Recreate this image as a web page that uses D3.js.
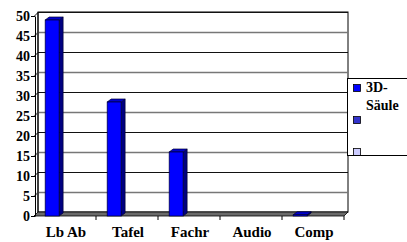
<!DOCTYPE html>
<html>
<head>
<meta charset="utf-8">
<script src="https://cdn.jsdelivr.net/npm/d3@7"></script>
<style>
    body { margin: 0; background: #fff; }
    text { font-family: "Liberation Serif", "Times New Roman", serif; font-weight: bold; fill: #000; }
</style>
</head>
<body>
<script>
// data
var categories = ["Lb Ab", "Tafel", "Fachr", "Audio", "Comp"];
var values = [49, 28.5, 16, 0, 0.3];
var yTicks = [0, 5, 10, 15, 20, 25, 30, 35, 40, 45, 50];
var legendLabels = [["3D-", "Säule"], [], []];
var legendColors = ["#0000ff", "#3333cc", "#ccccff"];

var width = 407,
    height = 242;

var svg = d3.select("body")
    .append("svg")
    .attr("width", width)
    .attr("height", height);

// 3d offset of the back wall
var dx = 4, dy = -4;

var x = d3.scaleBand()
    .domain(categories)
    .range([34, 344]);

var y = d3.scaleLinear()
    .domain([0, 50])
    .range([216, 16]);

var x0 = x.range()[0], x1 = x.range()[1];

// back wall
svg.append("rect")
    .attr("x", x0 + dx)
    .attr("y", y(50) + dy)
    .attr("width", x1 - x0)
    .attr("height", y(0) - y(50))
    .attr("fill", "#fff")
    .attr("stroke", "#000")
    .attr("stroke-width", 1);

// gridlines on back wall + side wall
svg.append("g").selectAll(".grid")
    .data(yTicks.filter(function(d){ return d > 0; }))
    .enter()
    .append("path")
    .attr("class", "grid")
    .attr("d", function(d){
        var yy = Math.round(y(d)) + 0.5;
        return "M" + x0 + "," + yy + "L" + (x0 + dx) + "," + (yy + dy) + "L" + (x1 + dx) + "," + (yy + dy);
    })
    .attr("fill", "none")
    .attr("stroke", function(d){ return (d % 10 === 5) ? "#777" : "#111"; })
    .attr("stroke-width", function(d){ return (d % 10 === 5) ? 1.3 : 1; });

// left side wall edge
svg.append("path")
    .attr("d", "M" + (x0 + dx) + "," + (y(50) + dy) + "L" + (x0 + dx) + "," + (y(0) + dy))
    .attr("stroke", "#000")
    .attr("fill", "none");

// floor
svg.append("path")
    .attr("d", "M" + x0 + "," + y(0) + "L" + (x0 + dx) + "," + (y(0) + dy) +
               "L" + (x1 + dx) + "," + (y(0) + dy) + "L" + x1 + "," + y(0) + "Z")
    .attr("fill", "#6a6a6a")
    .attr("stroke", "#000")
    .attr("stroke-width", 0.8);

// left axis
var yAxis = d3.axisLeft(y)
    .tickValues(yTicks)
    .tickSize(4)
    .tickPadding(1)
    .tickSizeOuter(0);

var yG = svg.append("g")
    .attr("transform", "translate(" + (x0 + 1) + ",0)")
    .attr("font-family", null)
    .call(yAxis);
yG.selectAll("text")
    .style("font-size", "14px")
    .style("font-family", "'Liberation Serif', serif")
    .style("font-weight", "bold")
    .attr("fill", "#000");
yG.selectAll("line, path").attr("stroke", "#000");

// bottom front edge ticks
var tickPos = categories.map(function(c){ return x(c); }).concat([x1]);
svg.selectAll(".xtick")
    .data(tickPos.slice(1))
    .enter()
    .append("line")
    .attr("class", "xtick")
    .attr("x1", function(d){ return d; })
    .attr("x2", function(d){ return d; })
    .attr("y1", y(0))
    .attr("y2", y(0) + 4)
    .attr("stroke", "#000");

// bars
var bw = x.bandwidth() * 0.225,
    boff = x.bandwidth() * 0.18,
    bdx = 4, bdy = -3;

var barData = categories.map(function(c, i){ return { cat: c, value: values[i] }; })
    .filter(function(d){ return d.value > 0; });

var bars = svg.selectAll(".bar")
    .data(barData)
    .enter()
    .append("g")
    .attr("class", "bar");

// side
bars.append("path")
    .attr("d", function(d){
        var bx = x(d.cat) + boff + bw, top = y(d.value), bot = y(0);
        return "M" + bx + "," + top + "L" + (bx + bdx) + "," + (top + bdy) +
               "L" + (bx + bdx) + "," + (bot + bdy) + "L" + bx + "," + bot + "Z";
    })
    .attr("fill", "#000080")
    .attr("stroke", "#000033")
    .attr("stroke-width", 0.7);

// top
bars.append("path")
    .attr("d", function(d){
        var bx = x(d.cat) + boff, top = y(d.value);
        return "M" + bx + "," + top + "L" + (bx + bdx) + "," + (top + bdy) +
               "L" + (bx + bw + bdx) + "," + (top + bdy) + "L" + (bx + bw) + "," + top + "Z";
    })
    .attr("fill", "#0000cc")
    .attr("stroke", "#000033")
    .attr("stroke-width", 0.7);

// front
bars.append("rect")
    .attr("x", function(d){ return x(d.cat) + boff; })
    .attr("y", function(d){ return y(d.value); })
    .attr("width", bw)
    .attr("height", function(d){ return y(0) - y(d.value); })
    .attr("fill", "#0000ff")
    .attr("stroke", "#000033")
    .attr("stroke-width", 0.7);

// category labels
svg.selectAll(".cat")
    .data(categories)
    .enter()
    .append("text")
    .attr("class", "cat")
    .attr("x", function(d){ return x(d) + x.bandwidth() / 2 + 1; })
    .attr("y", 237)
    .attr("text-anchor", "middle")
    .style("font-size", "15px")
    .text(function(d){ return d; });

// legend
var legend = svg.append("g");
legend.append("rect")
    .attr("x", 347.5)
    .attr("y", 78.5)
    .attr("width", 70)
    .attr("height", 77)
    .attr("fill", "#fff")
    .attr("stroke", "#000");

var items = legend.selectAll(".item")
    .data(legendColors)
    .enter()
    .append("g")
    .attr("class", "item")
    .attr("transform", function(d, i){ return "translate(353," + (84 + i * 32) + ")"; });

items.append("rect")
    .attr("x", 0.5)
    .attr("y", 0.5)
    .attr("width", 7)
    .attr("height", 7)
    .attr("fill", function(d){ return d; })
    .attr("stroke", "#000")
    .attr("stroke-width", 0.8);

items.each(function(d, i){
    d3.select(this).selectAll("text")
        .data(legendLabels[i])
        .enter()
        .append("text")
        .attr("x", 13)
        .attr("y", function(t, j){ return 8 + j * 18; })
        .style("font-size", "14px")
        .text(function(t){ return t; });
});

// legend bottom edge running over third swatch
legend.append("line")
    .attr("x1", 347).attr("x2", 407)
    .attr("y1", 155.5).attr("y2", 155.5)
    .attr("stroke", "#000");
</script>
</body>
</html>
